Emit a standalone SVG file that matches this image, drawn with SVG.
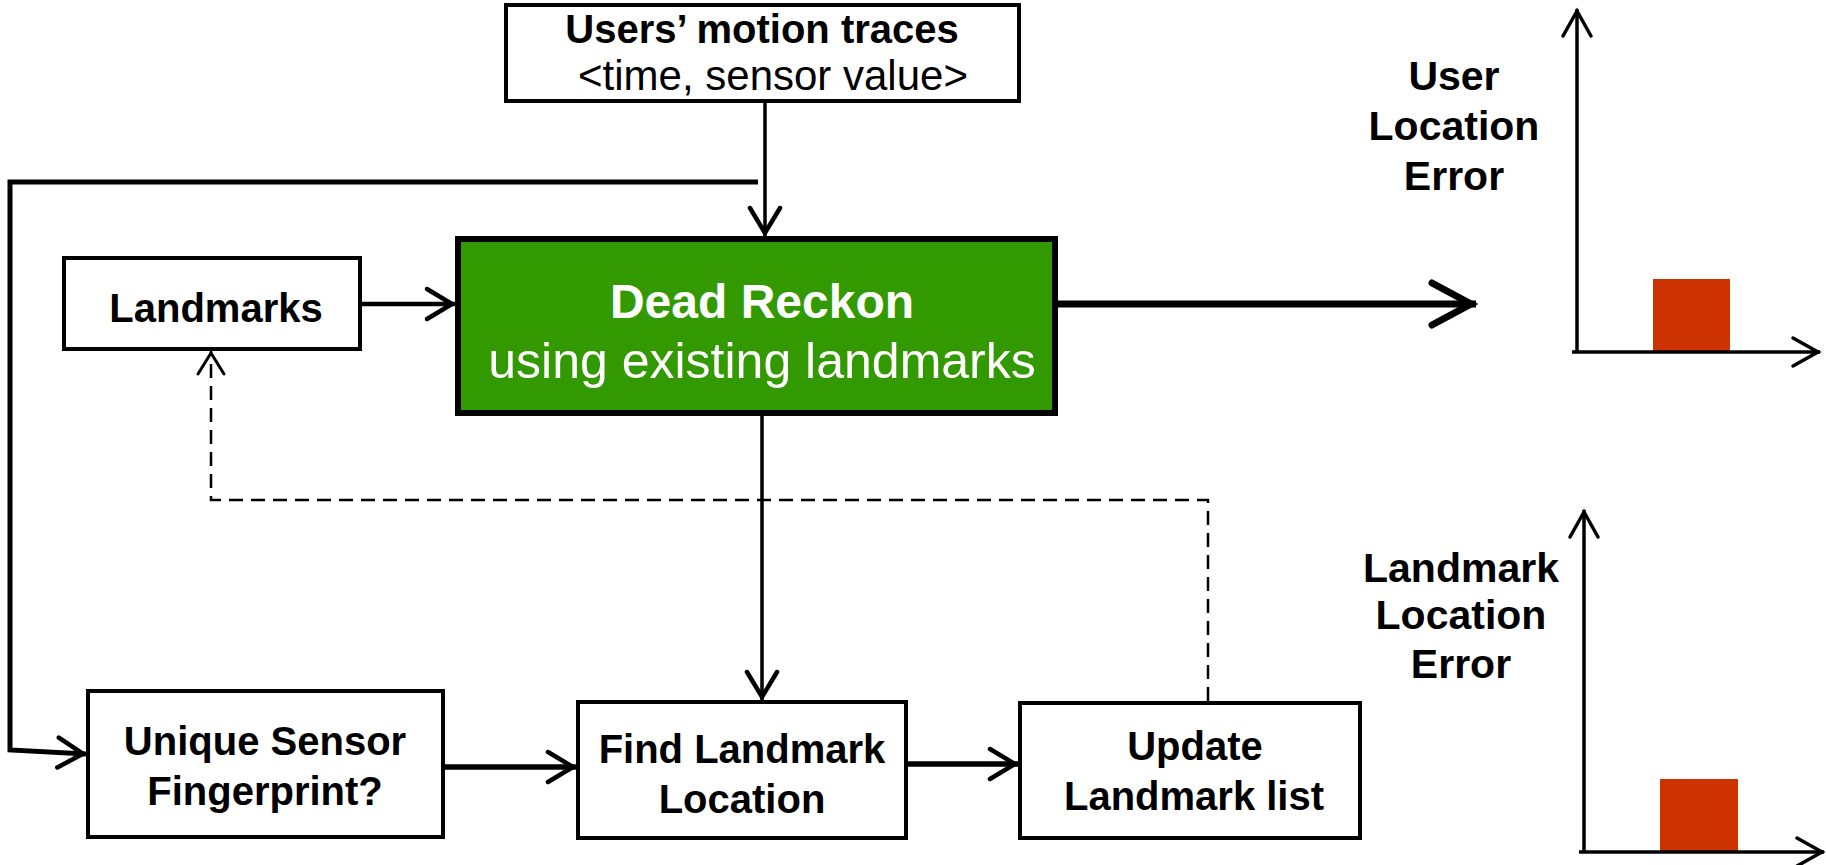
<svg xmlns="http://www.w3.org/2000/svg" width="1826" height="865" viewBox="0 0 1826 865">
  <defs>
    <style>
      .box { fill: #fff; stroke: #000; stroke-width: 4; }
      .t { font-family: "Liberation Sans", Arial, Helvetica, sans-serif; font-size: 40px; fill: #000; text-anchor: middle; }
      .b { font-weight: bold; }
      .sub { font-size: 42px; }
      .w { fill: #fff; }
      .title { font-size: 48px; }
      .title-sub { font-size: 50px; }
      .axis-lbl { font-size: 41px; }
      .line { fill: none; stroke: #000; stroke-linejoin: miter; }
      .dash { fill: none; stroke: #000; stroke-width: 2.5; stroke-dasharray: 14 8; }
      .bar { fill: #cc3300; }
      .head { fill: none; stroke: #000; stroke-linecap: round; stroke-linejoin: miter; }
    </style>
    <marker id="arrow" markerUnits="userSpaceOnUse" markerWidth="40" markerHeight="40" refX="0" refY="0" orient="auto" overflow="visible">
      <path class="head" d="M-28,-15 L-3,0 L-28,15" stroke-width="4.5"/>
    </marker>
    <marker id="arrow-lg" markerUnits="userSpaceOnUse" markerWidth="60" markerHeight="60" refX="0" refY="0" orient="auto" overflow="visible">
      <path class="head" d="M-44,-21 L-5,0 L-44,21" stroke-width="7"/>
    </marker>
    <marker id="arrow-sm" markerUnits="userSpaceOnUse" markerWidth="30" markerHeight="30" refX="0" refY="0" orient="auto" overflow="visible">
      <path class="head" d="M-23,-13 L-2,0 L-23,13" stroke-width="3"/>
    </marker>
    <marker id="axis" markerUnits="userSpaceOnUse" markerWidth="36" markerHeight="36" refX="0" refY="0" orient="auto" overflow="visible">
      <path class="head" d="M-27,-14 L-2,0 L-27,14" stroke-width="3.5"/>
    </marker>
  </defs>

  <rect width="1826" height="865" fill="#fff"/>

  <!-- connectors -->
  <g id="connectors">
    <path class="line" d="M765,101 V236" stroke-width="3.5" marker-end="url(#arrow)"/>
    <path class="line" d="M758,182 H10 V750 L86,754" stroke-width="5" marker-end="url(#arrow)"/>
    <path class="line" d="M362,304 H455" stroke-width="4.5" marker-end="url(#arrow)"/>
    <path class="line" d="M1058,304 H1476" stroke-width="7" marker-end="url(#arrow-lg)"/>
    <path class="line" d="M762,415 V700" stroke-width="3.5" marker-end="url(#arrow)"/>
    <path class="line" d="M445,767 H576" stroke-width="5.5" marker-end="url(#arrow)"/>
    <path class="line" d="M908,764 H1018" stroke-width="5.5" marker-end="url(#arrow)"/>
    <path class="dash" d="M1208,701 V500 H211 V351" marker-end="url(#arrow-sm)"/>
  </g>

  <!-- input traces -->
  <g id="motion-traces">
    <rect class="box" x="506" y="5" width="513" height="96" stroke-width="3"/>
    <text class="t b" x="762" y="43">Users’ motion traces</text>
    <text class="t sub" x="773" y="90">&lt;time, sensor value&gt;</text>
  </g>

  <g id="landmarks">
    <rect class="box" x="64" y="258" width="296" height="91"/>
    <text class="t b" x="216" y="322">Landmarks</text>
  </g>

  <g id="dead-reckon">
    <rect x="458" y="239" width="597" height="174" fill="#339900" stroke="#000" stroke-width="6"/>
    <text class="t b w title" x="762" y="318">Dead Reckon</text>
    <text class="t w title-sub" x="762" y="378">using existing landmarks</text>
  </g>

  <g id="fingerprint">
    <rect class="box" x="88" y="691" width="355" height="146"/>
    <text class="t b" x="265" y="755">Unique Sensor</text>
    <text class="t b" x="265" y="805">Fingerprint?</text>
  </g>

  <g id="find-location">
    <rect class="box" x="578" y="702" width="328" height="136"/>
    <text class="t b" x="742" y="763">Find Landmark</text>
    <text class="t b" x="742" y="813">Location</text>
  </g>

  <g id="update-list">
    <rect class="box" x="1020" y="703" width="340" height="135"/>
    <text class="t b" x="1195" y="760">Update</text>
    <text class="t b" x="1194" y="810">Landmark list</text>
  </g>

  <!-- error charts -->
  <g id="user-error-chart">
    <rect class="bar" x="1653" y="279" width="77" height="73"/>
    <path class="line" d="M1577,352 V9" stroke-width="3.5" marker-end="url(#axis)"/>
    <path class="line" d="M1572,352 H1820" stroke-width="3.5" marker-end="url(#axis)"/>
    <text class="t b axis-lbl" x="1454" y="90">User</text>
    <text class="t b axis-lbl" x="1454" y="140">Location</text>
    <text class="t b axis-lbl" x="1454" y="190">Error</text>
  </g>

  <g id="landmark-error-chart">
    <rect class="bar" x="1660" y="779" width="78" height="73"/>
    <path class="line" d="M1584,852 V510" stroke-width="3.5" marker-end="url(#axis)"/>
    <path class="line" d="M1579,852 H1824" stroke-width="3.5" marker-end="url(#axis)"/>
    <text class="t b axis-lbl" x="1461" y="582">Landmark</text>
    <text class="t b axis-lbl" x="1461" y="629">Location</text>
    <text class="t b axis-lbl" x="1461" y="678">Error</text>
  </g>
</svg>
